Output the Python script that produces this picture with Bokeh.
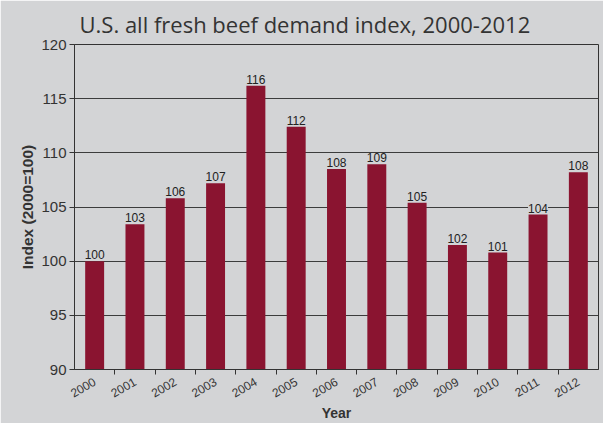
import math
from bokeh.plotting import figure
from bokeh.models import (ColumnDataSource, LabelSet, CategoricalAxis, Range1d, FixedTicker,
                          FactorRange)
from bokeh.core.properties import value
from bokeh.embed import file_html
from bokeh.resources import INLINE

years = ["2000", "2001", "2002", "2003", "2004", "2005", "2006",
         "2007", "2008", "2009", "2010", "2011", "2012"]
index_values = [100.0, 103.4, 105.8, 107.2, 116.2, 112.4, 108.5,
                108.95, 105.4, 101.5, 100.8, 104.3, 108.2]
bar_labels = ["100", "103", "106", "107", "116", "112", "108",
              "109", "105", "102", "101", "104", "108"]
y_min, y_max = 90, 120
y_ticks = [90, 95, 100, 105, 110, 115, 120]

BG = "#d3d4d6"
BAR = "#8a1430"
DARK = "#333333"

source = ColumnDataSource(dict(year=years, value=index_values, label=bar_labels))

p = figure(x_range=FactorRange(*years), y_range=Range1d(y_min, y_max),
           frame_width=524, frame_height=325,
           min_border_left=74, min_border_right=5, min_border_top=44, min_border_bottom=54,
           output_backend="svg", toolbar_location=None,
           background_fill_color=BG, border_fill_color=BG)

p.title.text = "U.S. all fresh beef demand index, 2000-2012"
p.title.text_font = "Open Sans"
p.title.text_font_style = "normal"
p.title.text_font_size = "22px"
p.title.text_color = DARK
p.title.offset = 5
p.title.standoff = 12

p.vbar(x="year", top="value", bottom=y_min, width=0.47, source=source,
       fill_color=BAR, line_color=None)

labels = LabelSet(x="year", y="value", text="label", source=source,
                  text_align="center", text_baseline="bottom", y_offset=2,
                  text_font=value("Liberation Sans"), text_font_size=value("12px"),
                  text_color=value("#222222"),
                  background_fill_color=BG)
p.add_layout(labels)

p.outline_line_color = DARK
p.outline_line_width = 1
p.xgrid.grid_line_color = None
p.ygrid.grid_line_color = "#3c3c3c"
p.ygrid.grid_line_width = 1
p.ygrid.ticker = FixedTicker(ticks=y_ticks)

# y axis
p.yaxis.ticker = FixedTicker(ticks=y_ticks)
p.yaxis.axis_label = "Index (2000=100)"
p.yaxis.axis_label_text_font = "Liberation Sans"
p.yaxis.axis_label_text_font_style = "bold"
p.yaxis.axis_label_text_font_size = "15.5px"
p.yaxis.axis_label_text_color = DARK
p.yaxis.axis_label_standoff = 2
p.yaxis.major_label_text_font = "Liberation Sans"
p.yaxis.major_label_text_font_size = "15px"
p.yaxis.major_label_text_color = DARK
p.yaxis.major_label_standoff = 3
p.yaxis.major_tick_out = 5
p.yaxis.major_tick_in = 0
p.yaxis.minor_tick_line_color = None
p.yaxis.axis_line_color = DARK
p.yaxis.major_tick_line_color = DARK

# boundary tick axis (frame-adjacent): a factor range whose centres fall on the
# boundaries between the year categories
bounds = ["b%d" % i for i in range(len(years) + 1)]
p.extra_x_ranges = {"bounds": FactorRange(*bounds, range_padding=-0.5,
                                          range_padding_units="absolute")}
tick_axis = CategoricalAxis(x_range_name="bounds",
                            major_label_text_font_size="0px",
                            major_label_text_color=None,
                            major_label_standoff=0,
                            major_tick_out=5, major_tick_in=0,
                            axis_line_color=DARK, major_tick_line_color=DARK)

# category axis with rotated year labels
xax = p.xaxis[0]
xax.axis_line_color = None
xax.major_tick_line_color = None
xax.major_label_orientation = math.pi / 6
xax.major_label_text_font = "Liberation Sans"
xax.major_label_text_font_size = "12px"
xax.major_label_text_color = DARK
xax.major_label_standoff = 0
xax.axis_label = "Year"
xax.axis_label_text_font = "Liberation Sans"
xax.axis_label_text_font_style = "bold"
xax.axis_label_text_font_size = "14px"
xax.axis_label_text_color = DARK
xax.axis_label_standoff = 0

p.below.insert(0, tick_axis)

open("out.html", "w").write(file_html(p, INLINE))
